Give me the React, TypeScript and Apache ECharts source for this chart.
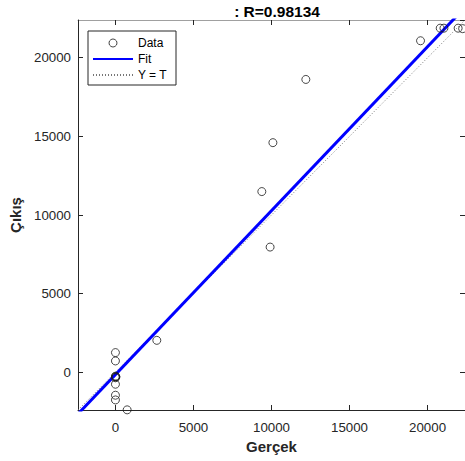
import React, { useEffect, useRef } from "react";
import * as echarts from "echarts";

const titleText = ": R=0.98134";
const xName = "Gerçek";
const yName = "Çıkış";
const axisMin = -2400;
const axisMax = 22400;

const targets = [0, 0, 0, 30, 0, 20, 0, 0, 0, 750, 2650, 9380, 9910, 10090, 12200, 19550, 20810, 21050, 21960, 22250];
const outputs = [1250, 720, -250, -300, -350, -280, -760, -1460, -1760, -2390, 2030, 11490, 7960, 14600, 18620, 21080, 21880, 21880, 21880, 21850];

const fitX = [-2400, 22400];
const fitY = [-2651, 23205];
const identX = [-2400, 22400];
const identY = [-2400, 22400];

const FONT = "'Liberation Sans', Arial, Helvetica, sans-serif";
const AX = "#262626";

export default function App() {
  const ref = useRef<HTMLDivElement>(null);
  useEffect(() => {
    if (!ref.current) return;
    const chart = echarts.init(ref.current, undefined, { renderer: "svg" });
    const scatterData = targets.map((t, i) => [t, outputs[i]]);
    const fitData = fitX.map((x, i) => [x, fitY[i]]);
    const identData = identX.map((x, i) => [x, identY[i]]);
    const plain = (v: number) => String(v);
    const commonX = {
      type: "value" as const,
      min: axisMin,
      max: axisMax,
      splitLine: { show: false },
    };
    const hiddenIcon = { color: "rgba(0,0,0,0)", borderWidth: 0, opacity: 0 };
    chart.setOption({
      animation: false,
      backgroundColor: "#ffffff",
      title: {
        text: titleText,
        left: 272,
        top: -2,
        textAlign: "center",
        textStyle: { fontFamily: FONT, fontSize: 15.5, fontWeight: "bold", color: "#000" },
      },
      grid: { left: 78, top: 20, right: 0, bottom: 51, containLabel: false },
      legend: {
        orient: "vertical",
        left: 88,
        top: 31,
        backgroundColor: "#fff",
        borderColor: AX,
        borderWidth: 1,
        borderRadius: 0,
        padding: [6, 9, 4, 4],
        itemWidth: 40,
        itemHeight: 8,
        itemGap: 4,
        textStyle: { fontFamily: FONT, fontSize: 12, color: "#000" },
        data: [
          {
            name: "Data",
            icon: "circle",
            itemStyle: { color: "rgba(0,0,0,0)", borderColor: "#1a1a1a", borderWidth: 1 },
          },
          { name: "Fit", itemStyle: hiddenIcon },
          { name: "Y = T", itemStyle: hiddenIcon },
        ],
      },
      xAxis: [
        {
          ...commonX,
          position: "bottom",
          name: xName,
          nameLocation: "middle",
          nameGap: 29,
          nameTextStyle: { fontFamily: FONT, fontSize: 15, fontWeight: "bold", color: AX },
          axisLine: { show: true, onZero: false, lineStyle: { color: AX, width: 1 } },
          axisTick: { show: true, inside: true, length: 5, lineStyle: { color: AX } },
          axisLabel: {
            fontFamily: FONT,
            fontSize: 13.3,
            color: AX,
            margin: 11,
            formatter: plain,
            showMinLabel: false,
            showMaxLabel: false,
          },
        },
        {
          ...commonX,
          position: "top",
          axisLine: { show: true, onZero: false, lineStyle: { color: "#a0a0a0", width: 1 } },
          axisTick: { show: true, inside: true, length: 5, lineStyle: { color: AX } },
          axisLabel: { show: false },
        },
      ],
      yAxis: [
        {
          ...commonX,
          position: "left",
          name: yName,
          nameLocation: "middle",
          nameGap: 50,
          nameTextStyle: { fontFamily: FONT, fontSize: 15, fontWeight: "bold", color: AX },
          axisLine: { show: true, onZero: false, lineStyle: { color: AX, width: 1 } },
          axisTick: { show: true, inside: true, length: 5, lineStyle: { color: AX } },
          axisLabel: {
            fontFamily: FONT,
            fontSize: 13.3,
            color: AX,
            margin: 7,
            formatter: plain,
            showMinLabel: false,
            showMaxLabel: false,
          },
        },
        {
          ...commonX,
          position: "right",
          axisLine: { show: false, onZero: false },
          axisTick: { show: true, inside: true, length: 5, lineStyle: { color: AX } },
          axisLabel: { show: false },
        },
      ],
      series: [
        {
          name: "Data",
          type: "scatter",
          data: scatterData,
          symbol: "circle",
          symbolSize: 8,
          itemStyle: { color: "rgba(0,0,0,0)", borderColor: "#1a1a1a", borderWidth: 1 },
          z: 3,
        },
        {
          name: "Fit",
          type: "line",
          data: fitData,
          symbol: "none",
          lineStyle: { color: "#0000ff", width: 3 },
          itemStyle: { color: "#0000ff" },
          z: 2,
        },
        {
          name: "Y = T",
          type: "line",
          data: identData,
          symbol: "none",
          lineStyle: { color: "#777", width: 1, type: [1, 2] },
          itemStyle: { color: "#777" },
          z: 1,
        },
      ],
    });
    return () => chart.dispose();
  }, []);
  return (
    <div
      ref={ref}
      style={{ position: "fixed", left: 0, top: 0, width: 465, height: 461, background: "#fff" }}
    />
  );
}
